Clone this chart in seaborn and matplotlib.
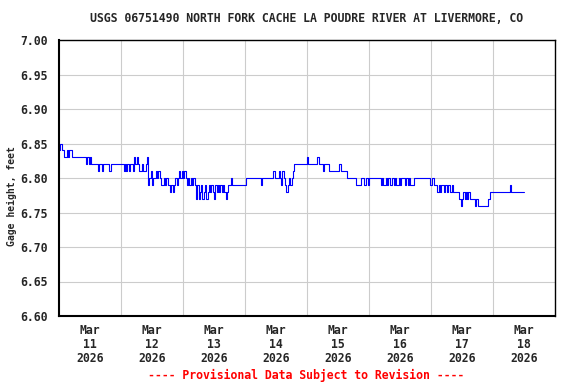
import pandas as pd
import matplotlib
matplotlib.use("Agg")
import matplotlib.pyplot as plt
import seaborn as sns

# gage height (feet), half-hourly readings, one list per day
mar11 = [6.84, 6.85, 6.84, 6.84, 6.83, 6.83, 6.84, 6.83, 6.84, 6.84, 6.83, 6.83,
         6.83, 6.83, 6.83, 6.83, 6.83, 6.83, 6.83, 6.83, 6.83, 6.82, 6.83, 6.82,
         6.83, 6.82, 6.82, 6.82, 6.82, 6.82, 6.81, 6.82, 6.82, 6.81, 6.82, 6.82,
         6.82, 6.82, 6.82, 6.81, 6.82, 6.82, 6.82, 6.82, 6.82, 6.82, 6.82, 6.82]
mar12 = [6.82, 6.82, 6.81, 6.82, 6.81, 6.82, 6.81, 6.82, 6.82, 6.81, 6.83, 6.82,
         6.83, 6.82, 6.81, 6.81, 6.82, 6.81, 6.81, 6.82, 6.83, 6.79, 6.80, 6.81,
         6.79, 6.80, 6.80, 6.81, 6.80, 6.81, 6.80, 6.79, 6.79, 6.80, 6.79, 6.80,
         6.79, 6.79, 6.78, 6.79, 6.78, 6.79, 6.80, 6.79, 6.80, 6.81, 6.80, 6.81]
mar13 = [6.80, 6.81, 6.80, 6.79, 6.80, 6.79, 6.80, 6.79, 6.80, 6.79, 6.77, 6.79,
         6.77, 6.78, 6.79, 6.77, 6.78, 6.79, 6.77, 6.78, 6.79, 6.78, 6.79, 6.78,
         6.77, 6.79, 6.78, 6.79, 6.78, 6.79, 6.78, 6.79, 6.78, 6.77, 6.78, 6.79,
         6.79, 6.80, 6.79, 6.79, 6.79, 6.79, 6.79, 6.79, 6.79, 6.79, 6.79, 6.79]
mar14 = [6.79, 6.80, 6.80, 6.80, 6.80, 6.80, 6.80, 6.80, 6.80, 6.80, 6.80, 6.80,
         6.79, 6.80, 6.80, 6.80, 6.80, 6.80, 6.80, 6.80, 6.80, 6.80, 6.81, 6.80,
         6.80, 6.80, 6.81, 6.80, 6.79, 6.81, 6.80, 6.79, 6.78, 6.79, 6.80, 6.79,
         6.80, 6.81, 6.82, 6.82, 6.82, 6.82, 6.82, 6.82, 6.82, 6.82, 6.82, 6.82]
mar15 = [6.83, 6.82, 6.82, 6.82, 6.82, 6.82, 6.82, 6.82, 6.83, 6.82, 6.82, 6.82,
         6.81, 6.82, 6.82, 6.82, 6.82, 6.81, 6.81, 6.81, 6.81, 6.81, 6.81, 6.81,
         6.81, 6.82, 6.81, 6.81, 6.81, 6.81, 6.81, 6.80, 6.80, 6.80, 6.80, 6.80,
         6.80, 6.80, 6.79, 6.79, 6.79, 6.79, 6.80, 6.80, 6.79, 6.79, 6.80, 6.79]
mar16 = [6.80, 6.80, 6.80, 6.80, 6.80, 6.80, 6.80, 6.80, 6.80, 6.79, 6.80, 6.79,
         6.79, 6.80, 6.79, 6.80, 6.79, 6.79, 6.80, 6.79, 6.80, 6.79, 6.79, 6.80,
         6.79, 6.80, 6.80, 6.80, 6.79, 6.80, 6.79, 6.80, 6.79, 6.79, 6.79, 6.80,
         6.80, 6.80, 6.80, 6.80, 6.80, 6.80, 6.80, 6.80, 6.80, 6.80, 6.80, 6.79]
mar17 = [6.79, 6.80, 6.79, 6.79, 6.79, 6.78, 6.79, 6.78, 6.79, 6.79, 6.78, 6.79,
         6.78, 6.79, 6.79, 6.78, 6.79, 6.78, 6.78, 6.78, 6.78, 6.78, 6.77, 6.76,
         6.77, 6.78, 6.77, 6.78, 6.77, 6.78, 6.77, 6.77, 6.77, 6.77, 6.76, 6.77,
         6.76, 6.76, 6.76, 6.76, 6.76, 6.76, 6.76, 6.76, 6.77, 6.77, 6.78, 6.78]
mar18 = [6.78, 6.78, 6.78, 6.78, 6.78, 6.78, 6.78, 6.78, 6.78, 6.78, 6.78, 6.78,
         6.78, 6.79, 6.78, 6.78, 6.78, 6.78, 6.78, 6.78, 6.78, 6.78, 6.78, 6.78,
         6.78]

y_ticks = [6.60, 6.65, 6.70, 6.75, 6.80, 6.85, 6.90, 6.95, 7.00]
title = "USGS 06751490 NORTH FORK CACHE LA POUDRE RIVER AT LIVERMORE, CO"

values = mar11 + mar12 + mar13 + mar14 + mar15 + mar16 + mar17 + mar18
df = pd.DataFrame({
    "time": pd.date_range("2026-03-11 00:00", periods=len(values), freq="30min"),
    "gage": values,
})

sns.set_style("white")
plt.rcParams["font.family"] = ["DejaVu Sans Mono"]
plt.rcParams["font.weight"] = "bold"
fs = 8.3

fig = plt.figure(figsize=(5.76, 3.84), dpi=100)
ax = fig.add_axes([59 / 576, 1 - 316 / 384, 496 / 576, 276 / 384])

sns.lineplot(data=df, x="time", y="gage", ax=ax, color="#0000ff",
             linewidth=0.8, drawstyle="steps-post")

start = pd.Timestamp("2026-03-11")
ax.set_xlim(start, start + pd.Timedelta(days=8))
ax.set_ylim(6.60, 7.00)

noons = pd.date_range("2026-03-11 12:00", periods=8, freq="D")
ax.set_xticks(noons)
ax.set_xticklabels([d.strftime("%b\n%d\n%Y") for d in noons],
                   fontsize=fs, fontweight="bold", linespacing=1.1)
ax.set_xticks(pd.date_range("2026-03-12", periods=7, freq="D"), minor=True)
ax.set_yticks(y_ticks)
ax.set_yticklabels([f"{v:.2f}" for v in y_ticks], fontsize=fs, fontweight="bold")
ax.tick_params(axis="both", which="both", length=0)
ax.tick_params(axis="x", pad=6)
ax.tick_params(axis="y", pad=8)

ax.grid(False)
ax.grid(True, axis="x", which="minor", color="#cccccc", linewidth=0.8)
ax.grid(True, axis="y", which="major", color="#cccccc", linewidth=0.8)
ax.set_axisbelow(True)

for side, sp in ax.spines.items():
    sp.set_visible(True)
    sp.set_color("black")
    sp.set_linewidth(1.5 if side in ("left", "bottom") else 1.0)

ax.set_xlabel("")
ax.set_ylabel("Gage height, feet", fontsize=7.0, fontweight="bold",
              va="center")
ax.yaxis.set_label_coords((12 - 59) / 496, (316 - 196) / 276)

fig.text(307 / 576, 1 - 19 / 384, title, ha="center", va="center",
         fontsize=fs, fontweight="bold")
fig.text(306 / 576, 1 - 375 / 384, "---- Provisional Data Subject to Revision ----",
         ha="center", va="center", fontsize=fs, fontweight="bold", color="red")

fig.savefig("out.png", dpi=100)
